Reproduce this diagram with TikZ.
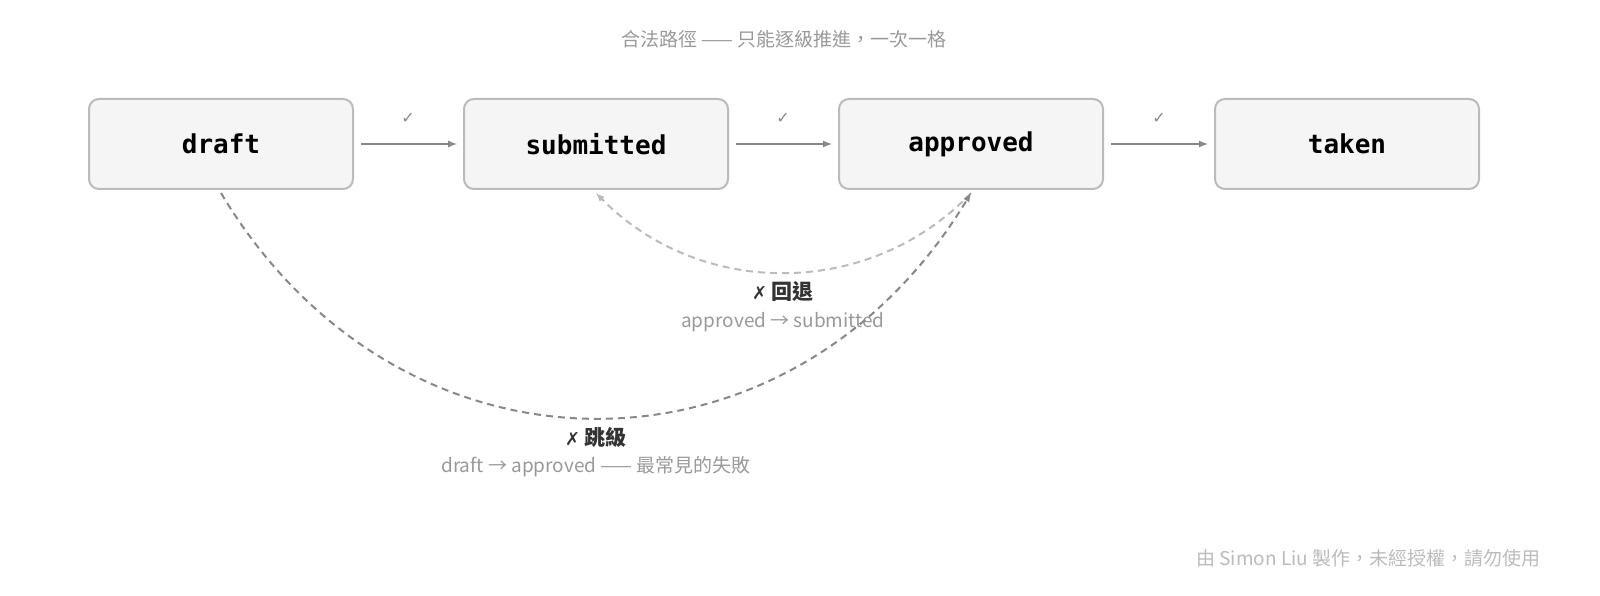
\documentclass[tikz,border=0pt]{standalone}
\usepackage{fontspec}
\setmainfont{Noto Sans CJK TC}
\newfontfamily\cjk{Noto Sans CJK TC}
\newfontfamily\sym{DejaVu Sans}
\newfontfamily\code{DejaVu Sans Mono}
\usetikzlibrary{positioning, calc}
\definecolor{boxfill}{HTML}{F5F5F5}
\definecolor{boxline}{HTML}{BBBBBB}
\definecolor{arrowgray}{HTML}{888888}
\definecolor{textgray}{HTML}{999999}
\definecolor{darktext}{HTML}{333333}
\begin{document}
\begin{tikzpicture}[x=1pt, y=-1pt]
        \tikzstyle{state}=[draw=boxline, line width=2pt, fill=boxfill, rounded corners=10pt, minimum width=264pt, minimum height=90pt, font=\code\fontsize{26}{30}\selectfont\bfseries, text=black];
        \tikzstyle{advance}=[-latex, line width=2pt, arrowgray];
        \tikzstyle{tick}=[font=\sym\fontsize{16}{18}\selectfont, text=arrowgray];
        \tikzstyle{note}=[font=\fontsize{19}{22}\selectfont, text=textgray];
        \tikzstyle{fail}=[font=\fontsize{21}{24}\selectfont\bfseries, text=darktext];

        \useasboundingbox (0, 0) rectangle (1600, 596);

        \node[note] (title) at (784, 39) {合法路徑 —— 只能逐級推進，一次一格};

        \node[state] (draft) at (221, 144) {draft};
        \node[state] (submitted) at (596, 144) {submitted};
        \node[state] (approved) at (971, 144) {approved};
        \node[state] (taken) at (1347, 144) {taken};

        \draw[advance] ($(draft.east) + (7, 0)$) -- ($(submitted.west) + (-6, 0)$);
        \draw[advance] ($(submitted.east) + (7, 0)$) -- ($(approved.west) + (-6, 0)$);
        \draw[advance] ($(approved.east) + (7, 0)$) -- ($(taken.west) + (-6, 0)$);
        \node[tick] at (408, 118) {✓};
        \node[tick] at (783, 118) {✓};
        \node[tick] at (1159, 118) {✓};

        \coordinate (dr) at ($(draft.south) + (0, 3)$);
        \coordinate (ap) at ($(approved.south) + (0, 3)$);
        \coordinate (sb) at ($(submitted.south) + (0, 3)$);

        % rollback
        \draw[-latex, line width=2pt, boxline, dash pattern=on 7pt off 5pt] (ap) .. controls (870, 299) and (700, 299) .. (sb);
        \node[fail] (back) at (783, 291) {{\sym\fontsize{18}{20}\selectfont ✗} 回退};
        \node[note] (backtxt) at (783, 322) {approved → submitted};

        % skip
        \draw[-latex, line width=2pt, arrowgray, dash pattern=on 7pt off 5pt] (dr) .. controls (400, 493) and (790, 493) .. (ap);
        \node[fail] (skip) at (596, 437) {{\sym\fontsize{18}{20}\selectfont ✗} 跳級};
        \node[note] (skiptxt) at (596, 467) {draft → approved —— 最常見的失敗};

        \node[note, anchor=east, text=boxline] (credit) at (1544, 558) {由 Simon Liu 製作，未經授權，請勿使用};
\end{tikzpicture}
\end{document}
